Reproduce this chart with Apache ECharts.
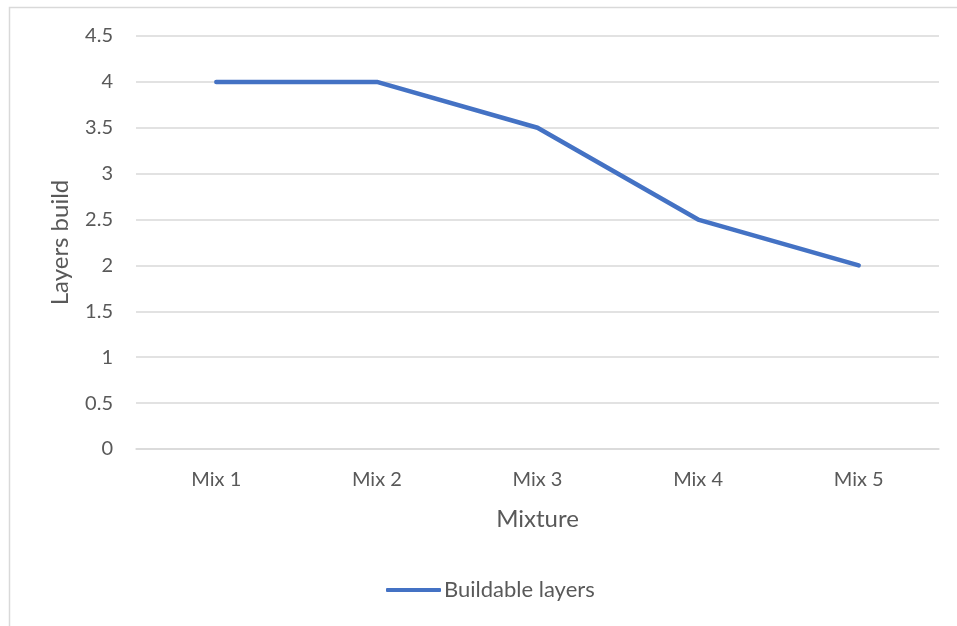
<!DOCTYPE html>
<html>
<head>
<meta charset="utf-8">
<script src="https://cdn.jsdelivr.net/npm/echarts@6/dist/echarts.min.js"></script>
<style>
  html, body { margin: 0; padding: 0; background: #fff; }
  #chart { width: 957px; height: 626px; }
</style>
</head>
<body>
<div id="chart"></div>
<script>
// Layers built per mixture
const mixtures = ['Mix 1', 'Mix 2', 'Mix 3', 'Mix 4', 'Mix 5'];
const buildableLayers = [4, 4, 3.5, 2.5, 2];
const seriesName = 'Buildable layers';
const xAxisTitle = 'Mixture';
const yAxisTitle = 'Layers build';

const FONT = 'Lato, "Open Sans", sans-serif';
const chart = echarts.init(document.getElementById('chart'), null, { renderer: 'canvas' });

chart.setOption({
  backgroundColor: '#ffffff',
  animation: false,
  textStyle: { fontFamily: FONT },
  graphic: [{
    type: 'rect',
    shape: { x: 9.5, y: 7.5, width: 1000, height: 700 },
    style: { fill: 'none', stroke: '#d9d9d9', lineWidth: 1.5 },
    silent: true
  }],
  grid: { left: 136, right: 18, top: 36, bottom: 177 },
  legend: {
    data: [seriesName],
    top: 574,
    left: 381,
    itemWidth: 55,
    itemHeight: 4,
    itemGap: 10,
    icon: 'roundRect',
    textStyle: { fontFamily: FONT, fontSize: 22, color: '#595959', padding: [0, 0, 0, -2] }
  },
  xAxis: {
    type: 'category',
    data: mixtures,
    boundaryGap: true,
    name: xAxisTitle,
    nameLocation: 'middle',
    nameGap: 58,
    nameTextStyle: { fontFamily: FONT, fontSize: 24, color: '#595959' },
    axisLine: { show: true, lineStyle: { color: '#d9d9d9', width: 1.5 } },
    axisTick: { show: false },
    axisLabel: { fontFamily: FONT, fontSize: 20, color: '#595959', margin: 21 },
    splitLine: { show: false }
  },
  yAxis: {
    type: 'value',
    min: 0,
    max: 4.5,
    interval: 0.5,
    name: yAxisTitle,
    nameLocation: 'middle',
    nameGap: 64,
    nameRotate: 90,
    nameTextStyle: { fontFamily: FONT, fontSize: 24, color: '#595959' },
    axisLine: { show: false },
    axisTick: { show: false },
    axisLabel: { fontFamily: FONT, fontSize: 20, color: '#595959', margin: 23 },
    splitLine: { show: true, lineStyle: { color: '#d9d9d9', width: 1.5 } }
  },
  series: [{
    name: seriesName,
    type: 'line',
    data: buildableLayers,
    symbol: 'none',
    lineStyle: { color: '#4472c4', width: 4.5, cap: 'round', join: 'round' },
    itemStyle: { color: '#4472c4' }
  }]
});
</script>
</body>
</html>
